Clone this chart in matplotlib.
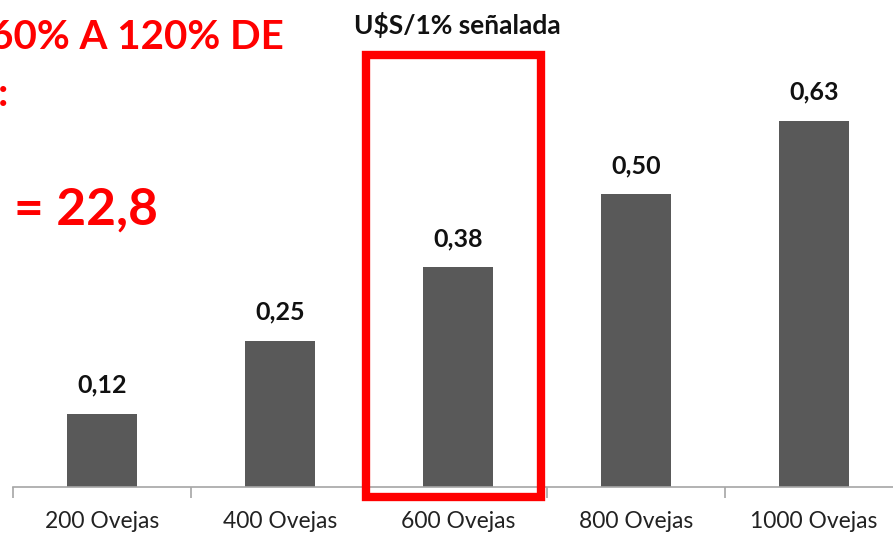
import matplotlib
matplotlib.use("Agg")
import matplotlib.pyplot as plt
from matplotlib.patches import Rectangle

categories = ["200 Ovejas", "400 Ovejas", "600 Ovejas", "800 Ovejas", "1000 Ovejas"]
values = [0.125, 0.25, 0.375, 0.50, 0.625]
value_labels = ["0,12", "0,25", "0,38", "0,50", "0,63"]
title = "U$S/1% señalada"

plt.rcParams['font.family'] = ['Lato', 'DejaVu Sans']

W, H = 893, 534
fig = plt.figure(figsize=(W / 100, H / 100), dpi=100)

left_px, right_px = 13, 903
base_px = 487
top_px = base_px - 0.75 * 586
ax = fig.add_axes([left_px / W, (H - base_px) / H, (right_px - left_px) / W, (base_px - top_px) / H])

x = list(range(len(categories)))
ax.bar(x, values, width=0.39, color="#595959", zorder=2)
ax.set_xlim(-0.5, len(categories) - 0.5)
ax.set_ylim(0, 0.75)

for xi, v, lab in zip(x, values, value_labels):
    ax.annotate(lab, (xi, v), xytext=(0, 15), textcoords="offset points",
                ha="center", va="baseline", fontsize=18, fontweight="bold", color="#111111")

for s in ["left", "right", "top"]:
    ax.spines[s].set_visible(False)
ax.spines["bottom"].set_color("#a6a6a6")
ax.spines["bottom"].set_linewidth(1.2)
ax.set_yticks([])
ax.set_xticks([i - 0.5 for i in range(len(categories) + 1)], minor=False)
ax.set_xticklabels([])
ax.tick_params(axis="x", which="major", length=8, color="#a6a6a6", width=1.2, direction="out")
ax.set_xticks(x, minor=True)
ax.set_xticklabels(categories, minor=True, fontsize=16.5, color="#222222")
ax.tick_params(axis="x", which="minor", length=0, pad=17)

fig.text(457 / W, 1 - 25 / H, title, ha="center", va="center", fontsize=19,
         fontweight="bold", color="#111111")

# red highlight box around third category
box_l, box_r, box_t, box_b = 366, 541, 55, 497
fig.patches.append(Rectangle((box_l / W, 1 - box_b / H), (box_r - box_l) / W, (box_b - box_t) / H,
                             transform=fig.transFigure, fill=False, edgecolor="#ff0000",
                             linewidth=6, zorder=5))

fig.text(-10 / W, 1 - 37 / H, "60% A 120% DE", ha="left", va="center", fontsize=29,
         fontweight="bold", color="#ff0000")
fig.text(-2 / W, 1 - 95 / H, ":", ha="left", va="center", fontsize=29,
         fontweight="bold", color="#ff0000")
fig.text(14 / W, 1 - 210 / H, "= 22,8", ha="left", va="center", fontsize=37,
         fontweight="bold", color="#ff0000")

fig.savefig("out.png", dpi=100)
